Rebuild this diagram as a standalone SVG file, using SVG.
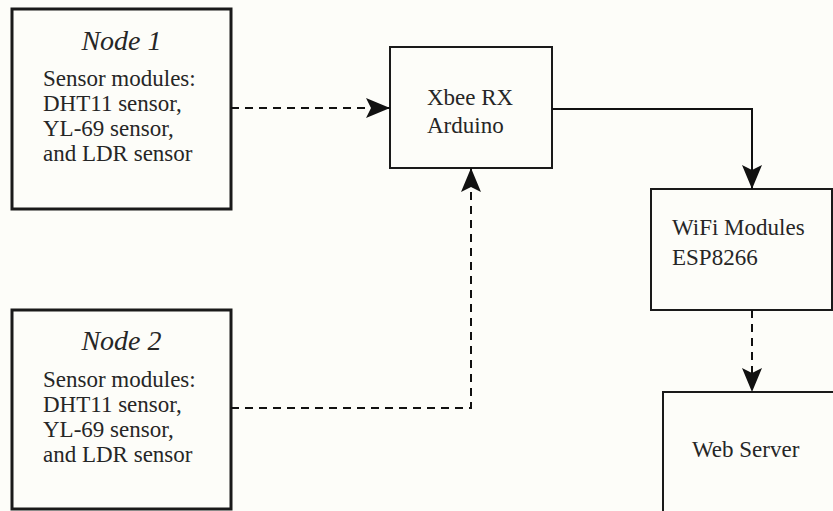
<svg xmlns="http://www.w3.org/2000/svg" width="833" height="511" viewBox="0 0 833 511">
<defs>
<style>
.box{fill:#fdfdf9;stroke:#1a1a1a;stroke-width:2}
.thick{stroke-width:3}
.t{font-family:"Liberation Serif","Times New Roman",serif;font-size:23px;fill:#262626}
.title{font-family:"Liberation Serif","Times New Roman",serif;font-size:28px;font-style:italic;fill:#262626}
.solid{fill:none;stroke:#111;stroke-width:2}
.dash{fill:none;stroke:#111;stroke-width:2;stroke-dasharray:8 6}
</style>
<marker id="ah" viewBox="0 0 24 20" refX="24" refY="10" markerWidth="24" markerHeight="20" markerUnits="userSpaceOnUse" orient="auto">
<path d="M0,0 L24,10 L0,20 L5,10 Z" fill="#111"/>
</marker>
</defs>
<rect width="833" height="511" fill="#fdfdf9"/>
<g id="node1">
<rect class="box thick" x="12" y="9" width="219" height="200"/>
<text class="title" x="121.5" y="50" text-anchor="middle">Node 1</text>
<text class="t" x="43" y="86">Sensor modules:</text>
<text class="t" x="43" y="111">DHT11 sensor,</text>
<text class="t" x="43" y="136">YL-69 sensor,</text>
<text class="t" x="43" y="161">and LDR sensor</text>
</g>
<g id="node2">
<rect class="box thick" x="12" y="310" width="219" height="199"/>
<text class="title" x="121.5" y="350" text-anchor="middle">Node 2</text>
<text class="t" x="43" y="387">Sensor modules:</text>
<text class="t" x="43" y="412">DHT11 sensor,</text>
<text class="t" x="43" y="437">YL-69 sensor,</text>
<text class="t" x="43" y="462">and LDR sensor</text>
</g>
<g id="xbee">
<rect class="box" x="390" y="47" width="162" height="121"/>
<text class="t" x="427" y="105">Xbee RX</text>
<text class="t" x="427" y="133">Arduino</text>
</g>
<g id="wifi">
<rect class="box" x="651" y="189" width="181" height="121"/>
<text class="t" x="672" y="235">WiFi Modules</text>
<text class="t" x="672" y="265">ESP8266</text>
</g>
<g id="webserver">
<rect class="box" x="663" y="392" width="190" height="140"/>
<text class="t" x="692" y="457">Web Server</text>
</g>
<g id="connectors">
<path class="dash" d="M231,108 H390" marker-end="url(#ah)"/>
<path class="solid" d="M552,109 H752 V189" marker-end="url(#ah)"/>
<path class="dash" d="M231,408 H471 V168" marker-end="url(#ah)"/>
<path class="dash" d="M752,310 V392" marker-end="url(#ah)"/>
</g>
</svg>
